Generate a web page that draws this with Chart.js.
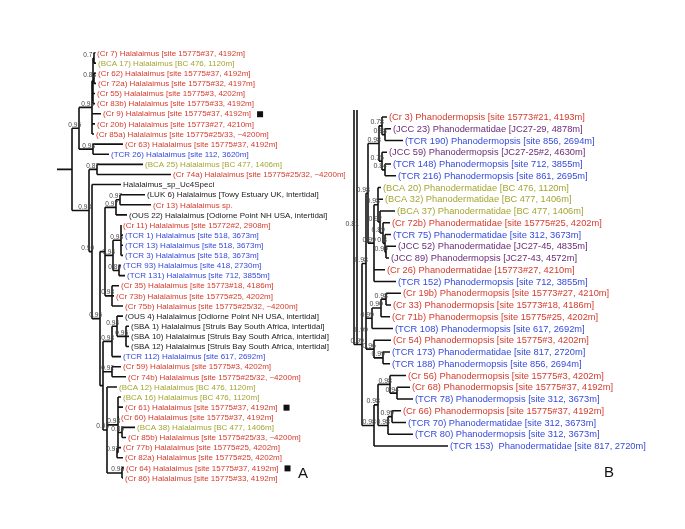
<!DOCTYPE html>
<html>
<head>
<meta charset="utf-8">
<script src="https://cdn.jsdelivr.net/npm/chart.js@4"></script>
<style>
  body { margin: 0; background: #fff; }
  #wrap { position: relative; width: 685px; height: 529px; }
  canvas { position: absolute; top: 0; }
</style>
</head>
<body>
<div id="wrap">
  <canvas id="treeA" width="345" height="529" style="left:0"></canvas>
  <canvas id="treeB" width="340" height="529" style="left:345px"></canvas>
</div>
<script>
// panel A: leaf labels (top to bottom), tip depth of each leaf, tree
var labelsA = [
    '(Cr 7) Halalaimus [site 15775#37, 4192m]',
    '(BCA 17) Halalaimus [BC 476, 1120m]',
    '(Cr 62) Halalaimus [site 15775#37, 4192m]',
    '(Cr 72a) Halalaimus [site 15775#32, 4197m]',
    '(Cr 55) Halalaimus [site 15775#3, 4202m]',
    '(Cr 83b) Halalaimus [site 15775#33, 4192m]',
    '(Cr 9) Halalaimus [site 15775#37, 4192m]',
    '(Cr 20b) Halalaimus [site 15773#27, 4210m]',
    '(Cr 85a) Halalaimus [site 15775#25/33, ~4200m]',
    '(Cr 63) Halalaimus [site 15775#37, 4192m]',
    '(TCR 26) Halalaimus [site 112, 3620m]',
    '(BCA 25) Halalaimus [BC 477, 1406m]',
    '(Cr 74a) Halalaimus [site 15775#25/32, ~4200m]',
    'Halalaimus_sp_Uc4Speci',
    '(LUK 6) Halalaimus [Towy Estuary UK, intertidal]',
    '(Cr 13) Halalaimus sp.',
    '(OUS 22) Halalaimus [Odiorne Point NH USA, intertidal]',
    '(Cr 11) Halalaimus [site 15772#2, 2908m]',
    '(TCR 1) Halalaimus [site 518, 3673m]',
    '(TCR 13) Halalaimus [site 518, 3673m]',
    '(TCR 3) Halalaimus [site 518, 3673m]',
    '(TCR 93) Halalaimus [site 418, 2730m]',
    '(TCR 131) Halalaimus [site 712, 3855m]',
    '(Cr 35) Halalaimus [site 15773#18, 4186m]',
    '(Cr 73b) Halalaimus [site 15775#25, 4202m]',
    '(Cr 75b) Halalaimus [site 15775#25/32, ~4200m]',
    '(OUS 4) Halalaimus [Odiorne Point NH USA, intertidal]',
    '(SBA 1) Halalaimus [Struis Bay South Africa, intertidal]',
    '(SBA 10) Halalaimus [Struis Bay South Africa, intertidal]',
    '(SBA 12) Halalaimus [Struis Bay South Africa, intertidal]',
    '(TCR 112) Halalaimus [site 617, 2692m]',
    '(Cr 59) Halalaimus [site 15775#3, 4202m]',
    '(Cr 74b) Halalaimus [site 15775#25/32, ~4200m]',
    '(BCA 12) Halalaimus [BC 476, 1120m]',
    '(BCA 16) Halalaimus [BC 476, 1120m]',
    '(Cr 61) Halalaimus [site 15775#37, 4192m]',
    '(Cr 60) Halalaimus [site 15775#37, 4192m]',
    '(BCA 38) Halalaimus [BC 477, 1406m]',
    '(Cr 85b) Halalaimus [site 15775#25/33, ~4200m]',
    '(Cr 77b) Halalaimus [site 15775#25, 4202m]',
    '(Cr 82a) Halalaimus [site 15775#25, 4202m]',
    '(Cr 64) Halalaimus [site 15775#37, 4192m]',
    '(Cr 86) Halalaimus [site 15775#33, 4192m]'
];
var tipsA = [95, 96, 96, 96, 95, 95, 101, 95, 94, 123, 109, 143, 171, 121, 145, 151, 127,
             121, 123, 123, 123, 121, 125, 119, 114, 123, 123, 129, 129, 129, 121, 121, 126,
             117, 121, 123, 119, 135, 126, 121, 123, 124, 123];
// node = [depth, support, children...], leaf = index into labels
var treeA = [72, '',
    [79, '0.95',
        [92, '0.98',
            [93, '', [94, '0.77', 0, 1], [94, '0.83', 2, 3], 4, 5],
            6, 7, 8],
        [93, '0.98', 9, 10]],
    [89, '0.98',
        [97, '0.87', 11, 12],
        [92, '0.90',
            13,
            [100, '0.96',
                [105, '',
                    [116, '0.97', [120, '0.97', 14, 15], 16],
                    [113, '0.94', [121, '0.98', 17, 18, 19, 20], [119, '0.89', 21, 22]],
                    [112, '0.98', 23, 24, 25]],
                [103, '',
                    [112, '0.98', [117, '0.94', 26, [126, '0.96', 27, 28, 29]], 30],
                    [112, '0.92', 31, 32],
                    [107, '0.95', 33,
                        [118, '0.98', 34, 35, 36, [122, '0.85', 37, 38], [117, '0.97', 39, 40]],
                        [122, '0.98', 41, 42]]]]]]];
var rootStubA = 57;
var markedA = [6, 35, 41];

// panel B
var labelsB = [
    '(Cr 3) Phanodermopsis [site 15773#21, 4193m]',
    '(JCC 23) Phanodermatidae [JC27-29, 4878m]',
    '(TCR 190) Phanodermopsis [site 856, 2694m]',
    '(JCC 59) Phanodermopsis [JC27-25#2, 4630m]',
    '(TCR 148) Phanodermopsis [site 712, 3855m]',
    '(TCR 216) Phanodermopsis [site 861, 2695m]',
    '(BCA 20) Phanodermatidae [BC 476, 1120m]',
    '(BCA 32) Phanodermatidae [BC 477, 1406m]',
    '(BCA 37) Phanodermatidae [BC 477, 1406m]',
    '(Cr 72b) Phanodermatidae [site 15775#25, 4202m]',
    '(TCR 75) Phanodermatidae [site 312, 3673m]',
    '(JCC 52) Phanodermatidae [JC27-45, 4835m]',
    '(JCC 89) Phanodermopsis [JC27-43, 4572m]',
    '(Cr 26) Phanodermatidae [15773#27, 4210m]',
    '(TCR 152) Phanodermopsis [site 712, 3855m]',
    '(Cr 19b) Phanodermopsis [site 15773#27, 4210m]',
    '(Cr 33) Phanodermopsis [site 15773#18, 4186m]',
    '(Cr 71b) Phanodermopsis [site 15775#25, 4202m]',
    '(TCR 108) Phanodermopsis [site 617, 2692m]',
    '(Cr 54) Phanodermopsis [site 15775#3, 4202m]',
    '(TCR 173) Phanodermatidae [site 817, 2720m]',
    '(TCR 188) Phanodermopsis [site 856, 2694m]',
    '(Cr 56) Phanodermopsis [site 15775#3, 4202m]',
    '(Cr 68) Phanodermopsis [site 15775#37, 4192m]',
    '(TCR 78) Phanodermopsis [site 312, 3673m]',
    '(Cr 66) Phanodermopsis [site 15775#37, 4192m]',
    '(TCR 70) Phanodermatidae [site 312, 3673m]',
    '(TCR 80) Phanodermopsis [site 312, 3673m]',
    '(TCR 153)  Phanodermatidae [site 817, 2720m]'
];
var tipsB = [387, 391, 403, 387, 391, 396, 381, 383, 395, 390, 391, 396, 389, 385, 396,
             401, 391, 390, 393, 391, 390, 390, 406, 410, 413, 401, 406, 413, 448];
// -0.6 = branch cut off at the top of the panel
var treeB = [354, '', -0.6,
    [357, '0.81', -0.6,
        [362, '0.99',
            [366, '0.98',
                [368, '0.98',
                    [379, '0.98',
                        [382, '0.78', 0, [385, '0.98', 1, 2]],
                        [382, '0.75', 3, [385, '0.84', 4, 5]]],
                    [374, '0.99',
                        [378, '0.98', 6, 7,
                            [380, '0.92', 8, [383, '0.89', 9, [385, '0.8', 10, [386, '0.99', 11, 12]]]]],
                        13, 14]],
                [366, '0.99',
                    [372, '0.99', [381, '0.90', [386, '0.98', 15, 16], 17], 18],
                    [374, '0.96', 19, [383, '0.99', 20, 21]]]],
            [374, '0.98',
                [378, '0.98',
                    [390, '0.98', 22, [397, '0.94', 23, 24]],
                    [388, '0.98', [392, '0.99', 25, 26], 27]],
                28]]]];

var colors = { Cr: '#d63a2c', BCA: '#a5a533', TCR: '#3549dc', JCC: '#6a2b78' };

function labelColor(s) {
    var m = s.match(/^\((\w+)/);
    return (m && colors[m[1]]) || '#1a1a1a';
}

// walk the tree, collect branch segments and node positions
function walk(node, tips, segs, nodes) {
    if (typeof node === 'number') {
        if (node < 0) return { x: null, y: node, cut: true };
        return { x: tips[node], y: node };
    }
    var x = node[0];
    var kids = node.slice(2).map(function(k) { return walk(k, tips, segs, nodes); });
    var y0 = kids[0].y, y1 = kids[kids.length - 1].y;
    segs.push({ x: x, y: y0 }, { x: x, y: y1 }, { x: null, y: null });
    kids.forEach(function(k) {
        if (!k.cut) segs.push({ x: x, y: k.y }, { x: k.x, y: k.y }, { x: null, y: null });
    });
    var mid = (y0 + y1) / 2;
    if (node[1]) nodes.push({ x: x, y: mid, sup: node[1] });
    // a node whose top part is cut off hangs on its visible child
    return { x: x, y: kids[0].cut ? y1 : mid };
}

function makeTree(id, tree, tips, labels, opts) {
    var segs = [], nodes = [];
    var root = walk(tree, tips, segs, nodes);
    if (opts.stub) segs.push({ x: opts.stub, y: root.y }, { x: root.x, y: root.y });

    var labelPlugin = {
        id: 'treeLabels',
        afterDatasetsDraw: function(chart) {
            var ctx = chart.ctx, sx = chart.scales.x, sy = chart.scales.y;
            ctx.save();
            ctx.textBaseline = 'middle';
            ctx.textAlign = 'left';
            ctx.font = opts.font + 'px "Liberation Sans", Arial, sans-serif';
            labels.forEach(function(s, i) {
                var x = sx.getPixelForValue(tips[i]) + 2;
                var y = sy.getPixelForValue(i) + 0.5;
                ctx.fillStyle = labelColor(s);
                ctx.fillText(s, x, y);
                if ((opts.marked || []).indexOf(i) >= 0) {
                    var w = ctx.measureText(s).width;
                    ctx.fillStyle = '#111';
                    ctx.fillRect(x + w + 6, y - 3, 6, 6);
                }
            });
            ctx.font = opts.supFont + 'px "Liberation Sans", Arial, sans-serif';
            ctx.textAlign = 'right';
            ctx.textBaseline = 'alphabetic';
            ctx.fillStyle = '#444';
            nodes.forEach(function(n) {
                ctx.fillText(n.sup, sx.getPixelForValue(n.x) + 2, sy.getPixelForValue(n.y) - 1.5);
            });
            ctx.font = '15px "Liberation Sans", Arial, sans-serif';
            ctx.textAlign = 'left';
            ctx.textBaseline = 'middle';
            ctx.fillStyle = '#111';
            ctx.fillText(opts.letter[0], sx.getPixelForValue(opts.letter[1]), sy.getPixelForValue(opts.letter[2]));
            ctx.restore();
        }
    };

    return new Chart(document.getElementById(id), {
        type: 'scatter',
        data: {
            datasets: [{
                data: segs,
                showLine: true,
                spanGaps: false,
                borderColor: '#111',
                borderWidth: 1.6,
                pointRadius: 0
            }]
        },
        options: {
            responsive: false,
            animation: false,
            layout: { padding: 0 },
            plugins: { legend: { display: false }, tooltip: { enabled: false } },
            scales: {
                x: { type: 'linear', min: opts.xRange[0], max: opts.xRange[1], display: false },
                y: { type: 'linear', min: opts.yRange[0], max: opts.yRange[1], reverse: true, display: false }
            }
        },
        plugins: [labelPlugin]
    });
}

makeTree('treeA', treeA, tipsA, labelsA, {
    xRange: [0, 345], yRange: [-5.24, 47.04],
    font: 8, supFont: 6.5, stub: rootStubA, marked: markedA,
    letter: ['A', 298, 41.6]
});
makeTree('treeB', treeB, tipsB, labelsB, {
    xRange: [345, 685], yRange: [-9.96, 35.06],
    font: 9.3, supFont: 7,
    letter: ['B', 604, 30.3]
});
</script>
</body>
</html>
